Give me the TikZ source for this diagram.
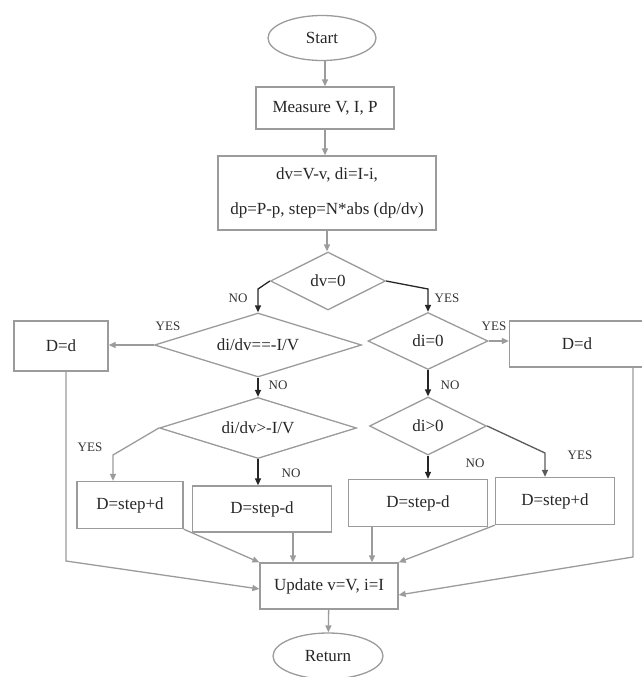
\documentclass[tikz,border=0pt]{standalone}
\usepackage{fontspec}
\setmainfont{Liberation Serif}
\usepackage{xcolor}
\usetikzlibrary{shapes.geometric, arrows.meta}
\definecolor{linegray}{RGB}{155,155,155}
\definecolor{linedark}{RGB}{90,90,90}
\tikzset{
  block/.style={
    rectangle, draw=linegray, line width=1.3pt,
    inner sep=2pt, text=black!85,
    font=\fontsize{17}{20}\selectfont
  },
  dec/.style  = {diamond, draw=linegray, line width=1.3pt, inner sep=0pt,
                 text=black!85, font=\fontsize{17}{20}\selectfont},
  term/.style = {ellipse, draw=linegray, line width=1.3pt, inner sep=0pt,
                 text=black!85, font=\fontsize{17}{20}\selectfont},
  lab/.style  = {text=black!80, font=\fontsize{13}{15}\selectfont},
  arr/.style  = {-{Triangle[length=7pt,width=6pt]}, draw=linegray, line width=1.3pt},
  arrdk/.style  = {arr, draw=linedark},
  arrblk/.style = {arr, draw=black!85},
}
\begin{document}
\begin{tikzpicture}[x=1pt, y=-1pt]
  \useasboundingbox (0,0) rectangle (641,677);

  % ── main column ─────────────────────────────────────────────────────────────
  \node[term, minimum width=108pt, minimum height=45pt]  (start) at (322,38)  {Start};
  \node[block, minimum width=138pt, minimum height=42pt] (meas)  at (325,108) {Measure V, I, P};
  \node[block, minimum width=218pt, minimum height=74pt, align=center,
        font=\fontsize{17}{35}\selectfont]               (diff)  at (327,193)
        {dv=V-v, di=I-i,\\dp=P-p, step=N*abs (dp/dv)};
  \node[dec, aspect=2, minimum width=115pt, minimum height=58pt] (dv0) at (328,281) {dv=0};

  % ── decisions ───────────────────────────────────────────────────────────────
  \node[dec, aspect=3.2, minimum width=207pt, minimum height=64pt] (eq)   at (258,345) {di/dv==-I/V};
  \node[dec, aspect=2.1, minimum width=120pt, minimum height=57pt] (di0)  at (428,341) {di=0};
  \node[dec, aspect=3.2, minimum width=197pt, minimum height=61pt] (dgt)  at (258,428) {di/dv>-I/V};
  \node[dec, aspect=2,   minimum width=117pt, minimum height=58pt] (digt) at (428,426) {di>0};

  % ── duty updates ────────────────────────────────────────────────────────────
  \node[block, minimum width=94pt,  minimum height=50pt] (dl)    at (61,346)  {D=d};
  \node[block, minimum width=135pt, minimum height=46pt] (dr)    at (577,344) {D=d};
  \node[block, minimum width=106pt, minimum height=47pt] (sp1)   at (130,505) {D=step+d};
  \node[block, minimum width=139pt, minimum height=46pt] (sm1)   at (262,509) {D=step-d};
  \node[block, minimum width=139pt, minimum height=47pt] (sm2)   at (418,503) {D=step-d};
  \node[block, minimum width=119pt, minimum height=47pt] (sp2)   at (555,501) {D=step+d};

  % ── end ─────────────────────────────────────────────────────────────────────
  \node[block, minimum width=138pt, minimum height=46pt] (upd)   at (329,586) {Update v=V, i=I};
  \node[term, minimum width=110pt, minimum height=46pt]  (ret)   at (328,656) {Return};

  % ── bend points ─────────────────────────────────────────────────────────────
  \coordinate (dgtyes)  at (113,455);
  \coordinate (digtyes) at (545,453);
  \coordinate (lbend)   at (66,561);
  \coordinate (rbend)   at (633,557);

  % ── arrows main column ──────────────────────────────────────────────────────
  \draw[arr] (start.south -| meas.north) -- (meas.north);
  \draw[arr] (meas.south) -- (meas.south |- diff.north);
  \draw[arr] (diff.south) -- (diff.south |- dv0.north);

  % ── dv=0 branches ───────────────────────────────────────────────────────────
  \draw[arrblk] (dv0.west) -- ([yshift=-8pt]dv0.west -| eq.north) -- (eq.north);
  \node[lab] (no1) at (238,298) {NO};
  \draw[arrblk] (dv0.east) -- ([yshift=-8pt]dv0.east -| di0.north) -- (di0.north);
  \node[lab] (yes1) at (447,298) {YES};

  % ── left side ───────────────────────────────────────────────────────────────
  \draw[arr] (eq.west) -- (eq.west -| dl.east);
  \node[lab] (yes2) at (168,326) {YES};
  \draw[arrblk] (eq.south) -- (dgt.north);
  \node[lab] (no2) at (278,385) {NO};
  \draw[arr] (dgt.west) -- (dgtyes) -- (dgtyes |- sp1.north);
  \node[lab] (yes3) at (90,447) {YES};
  \draw[arrblk] (dgt.south) -- (dgt.south |- sm1.north);
  \node[lab] (no3) at (291,473) {NO};

  % ── right side ──────────────────────────────────────────────────────────────
  \draw[arr] (di0.east) -- (di0.east -| dr.west);
  \node[lab] (yes4) at (494,326) {YES};
  \draw[arrblk] (di0.south) -- (digt.north);
  \node[lab] (no4) at (450,385) {NO};
  \draw[arrblk] (digt.south) -- (digt.south |- sm2.north);
  \node[lab] (no5) at (475,463) {NO};
  \draw[arrdk] (digt.east) -- (digtyes) -- (digtyes |- sp2.north);
  \node[lab] (yes5) at (580,455) {YES};

  % ── into update ─────────────────────────────────────────────────────────────
  \draw[arr] (dl.south -| lbend) -- (lbend) -- ([yshift=-3pt]upd.west);
  \draw[arr] (sp1.south east) -- (upd.north west);
  \draw[arr] ([xshift=31pt]sm1.south) -- ([xshift=31pt]sm1.south |- upd.north);
  \draw[arr] ([xshift=-46pt]sm2.south) -- ([xshift=-46pt]sm2.south |- upd.north);
  \draw[arr] (sp2.south west) -- (upd.north east);
  \draw[arr] (dr.south -| rbend) -- (rbend) -- ([yshift=-9pt]upd.east);
  \draw[arr] (upd) -- (ret);

\end{tikzpicture}
\end{document}
